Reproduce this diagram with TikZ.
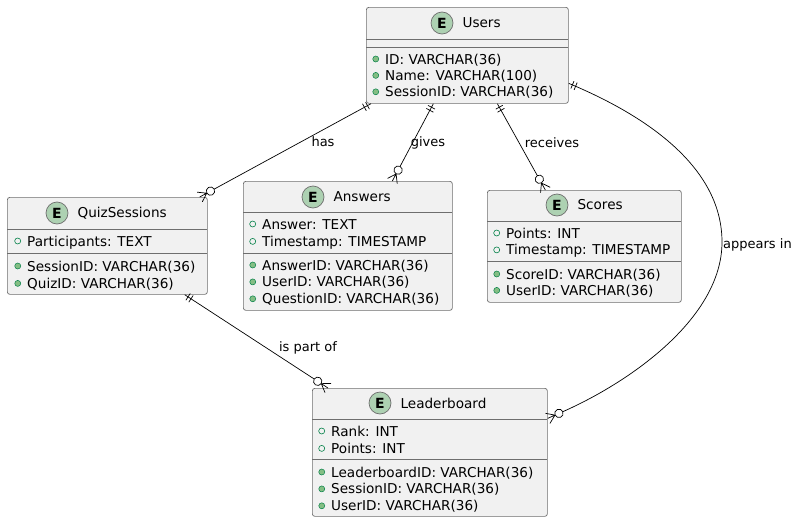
\documentclass[tikz,border=0pt]{standalone}
\usepackage{fontspec}
\setmainfont{DejaVu Sans}
\usepackage{tikz}
\usetikzlibrary{positioning}

\definecolor{boxfill}{HTML}{F1F1F1}
\definecolor{boxline}{HTML}{6E6E6E}
\definecolor{spotfill}{HTML}{ADD1B2}
\definecolor{keyfill}{HTML}{84BE84}
\definecolor{keyline}{HTML}{038048}

% crow's foot ends
\pgfdeclarearrow{
	name = ZeroMany,
	setup code = {
		\pgfarrowssettipend{0pt}
		\pgfarrowssetlineend{-16.5pt}
		\pgfarrowssetbackend{-16.5pt}
		\pgfarrowshullpoint{0pt}{5.5pt}
		\pgfarrowshullpoint{0pt}{-5.5pt}
		\pgfarrowshullpoint{-16.5pt}{0pt}
	},
	drawing code = {
		\pgfsetdash{}{0pt}
		\pgfpathmoveto{\pgfpoint{0pt}{0pt}}
		\pgfpathlineto{\pgfpoint{-8pt}{0pt}}
		\pgfpathmoveto{\pgfpoint{0pt}{5.5pt}}
		\pgfpathlineto{\pgfpoint{-8pt}{0pt}}
		\pgfpathlineto{\pgfpoint{0pt}{-5.5pt}}
		\pgfusepathqstroke
		\pgfpathcircle{\pgfpoint{-12.3pt}{0pt}}{4.2pt}
		\pgfusepathqstroke
	}
}
\pgfdeclarearrow{
	name = OneOnly,
	setup code = {
		\pgfarrowssettipend{0pt}
		\pgfarrowssetlineend{0pt}
		\pgfarrowssetbackend{-9pt}
		\pgfarrowshullpoint{0pt}{4pt}
		\pgfarrowshullpoint{0pt}{-4pt}
		\pgfarrowshullpoint{-9pt}{4pt}
		\pgfarrowshullpoint{-9pt}{-4pt}
	},
	drawing code = {
		\pgfsetdash{}{0pt}
		\pgfpathmoveto{\pgfpoint{-4pt}{4pt}}
		\pgfpathlineto{\pgfpoint{-4pt}{-4pt}}
		\pgfpathmoveto{\pgfpoint{-7.5pt}{4pt}}
		\pgfpathlineto{\pgfpoint{-7.5pt}{-4pt}}
		\pgfusepathqstroke
	}
}

\begin{document}
\begin{tikzpicture}
		[
			x = 1pt, y = -1pt,
			entity/.style = {rectangle, rounded corners = 2.5pt, fill = boxfill, draw = boxline, line width = 0.7pt, anchor = north west, inner sep = 0pt},
			divider/.style = {draw = boxline, line width = 0.7pt},
			spot/.style = {circle, fill = spotfill, draw = boxline, line width = 0.7pt, minimum size = 22pt, inner sep = 0pt, font = \fontsize{14}{14}\selectfont\bfseries},
			title/.style = {anchor = west, inner sep = 0pt, font = \fontsize{13.6}{16}\selectfont},
			row/.style = {anchor = west, inner sep = 0pt, text height = 12pt, text depth = 2pt, font = \fontsize{13.6}{16}\selectfont},
			keydot/.style = {circle, fill = keyfill, draw = keyline, line width = 0.5pt, minimum size = 6pt, inner sep = 0pt, label distance = 6pt},
			attrdot/.style = {circle, draw = keyline, line width = 0.6pt, minimum size = 6pt, inner sep = 0pt, label distance = 6pt},
			key/.style = {row, label = {[keydot]left:{}}},
			attr/.style = {row, label = {[attrdot]left:{}}},
			rel/.style = {draw, line width = 0.7pt, arrows = {OneOnly-ZeroMany}},
			lbl/.style = {inner sep = 0pt, font = \fontsize{13}{15}\selectfont},
		]
			%
			\useasboundingbox (0,0) rectangle (797,522);
			%
			% Users
			\node (users) [entity, minimum width = 202pt, minimum height = 96pt] at (366,7) {};
			\draw [divider] (366,39) -- (568,39);
			\draw [divider] (366,47) -- (568,47);
			\node (usersspot) [spot] at (442,23) {E};
			\node (userstitle) [title, right = 9pt of usersspot] {Users};
			\node (usersid) [key] at (385,59) {ID: VARCHAR(36)};
			\node (usersname) [key, below right = 2pt and 0pt of usersid.south west] {Name: VARCHAR(100)};
			\node (userssession) [key, below right = 2pt and 0pt of usersname.south west] {SessionID: VARCHAR(36)};
			%
			% QuizSessions
			\node (quiz) [entity, minimum width = 200pt, minimum height = 97pt] at (7,197) {};
			\draw [divider] (7,229) -- (207,229);
			\draw [divider] (7,253) -- (207,253);
			\node (quizspot) [spot] at (57,213) {E};
			\node (quiztitle) [title, right = 9pt of quizspot] {QuizSessions};
			\node (quizpart) [attr] at (27,241) {Participants: TEXT};
			\node (quizsession) [key] at (27,266) {SessionID: VARCHAR(36)};
			\node (quizquiz) [key, below right = 3pt and 0pt of quizsession.south west] {QuizID: VARCHAR(36)};
			%
			% Answers
			\node (answers) [entity, minimum width = 209pt, minimum height = 129pt] at (243,181) {};
			\draw [divider] (243,212) -- (452,212);
			\draw [divider] (243,253) -- (452,253);
			\node (answersspot) [spot] at (313,197) {E};
			\node (answerstitle) [title, right = 9pt of answersspot] {Answers};
			\node (answersanswer) [attr] at (262,224) {Answer: TEXT};
			\node (answerstime) [attr, below right = 3pt and 0pt of answersanswer.south west] {Timestamp: TIMESTAMP};
			\node (answersid) [key] at (262,265) {AnswerID: VARCHAR(36)};
			\node (answersuser) [key, below right = 2.5pt and 0pt of answersid.south west] {UserID: VARCHAR(36)};
			\node (answersquestion) [key, below right = 2.5pt and 0pt of answersuser.south west] {QuestionID: VARCHAR(36)};
			%
			% Scores
			\node (scores) [entity, minimum width = 194pt, minimum height = 112pt] at (487,190) {};
			\draw [divider] (487,221) -- (681,221);
			\draw [divider] (487,261) -- (681,261);
			\node (scoresspot) [spot] at (557,205) {E};
			\node (scorestitle) [title, right = 9pt of scoresspot] {Scores};
			\node (scorespoints) [attr] at (506,233) {Points: INT};
			\node (scorestime) [attr, below right = 2.5pt and 0pt of scorespoints.south west] {Timestamp: TIMESTAMP};
			\node (scoresid) [key] at (506,274) {ScoreID: VARCHAR(36)};
			\node (scoresuser) [key, below right = 2pt and 0pt of scoresid.south west] {UserID: VARCHAR(36)};
			%
			% Leaderboard
			\node (leader) [entity, minimum width = 235pt, minimum height = 128pt] at (312,388) {};
			\draw [divider] (312,419) -- (547,419);
			\draw [divider] (312,459) -- (547,459);
			\node (leaderspot) [spot] at (380,403) {E};
			\node (leadertitle) [title, right = 9pt of leaderspot] {Leaderboard};
			\node (leaderrank) [attr] at (331,431) {Rank: INT};
			\node (leaderpoints) [attr, below right = 3pt and 0pt of leaderrank.south west] {Points: INT};
			\node (leaderid) [key] at (331,472) {LeaderboardID: VARCHAR(36)};
			\node (leadersession) [key, below right = 2.5pt and 0pt of leaderid.south west] {SessionID: VARCHAR(36)};
			\node (leaderuser) [key, below right = 2.5pt and 0pt of leadersession.south west] {UserID: VARCHAR(36)};
			%
			% relations
			\draw [rel] ([xshift = 5pt]users.south west) -- ([xshift = -8pt]quiz.north east);
			\draw [rel] ([xshift = -34pt]users.south) -- ([xshift = 44.5pt]answers.north);
			\draw [rel] ([xshift = 30pt]users.south) -- ([xshift = -39pt]scores.north);
			\draw [rel] ([xshift = -23pt]quiz.south east) -- ([xshift = 16pt]leader.north west);
			\draw [rel] ([yshift = -28pt]users.east) .. controls (652,118) and (722,170) .. (722,242) .. controls (722,318) and (630,382) .. ([yshift = 34pt]leader.east);
			%
			\node (haslabel) [lbl] at (323,142) {has};
			\node (giveslabel) [lbl] at (428,143) {gives};
			\node (receiveslabel) [lbl] at (552,143) {receives};
			\node (partlabel) [lbl] at (308,348) {is part of};
			\node (appearslabel) [lbl, anchor = west] at (723,245) {appears in};
			%
\end{tikzpicture}
\end{document}
